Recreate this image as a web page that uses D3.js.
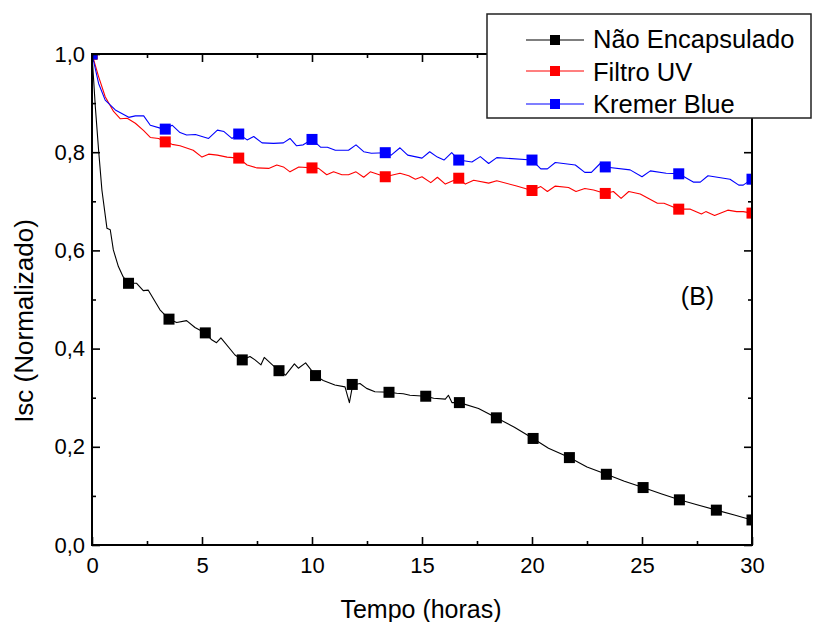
<!DOCTYPE html>
<html>
<head>
<meta charset="utf-8">
<script src="https://cdn.jsdelivr.net/npm/d3@7"></script>
<style>
  html, body { margin: 0; padding: 0; background: #fff; }
  svg { display: block; font-family: "Liberation Sans", Arial, sans-serif; }
</style>
</head>
<body>
<svg id="chart" width="813" height="622"></svg>
<script>
// ---------- data ----------
const seriesNames = ["Não Encapsulado", "Filtro UV", "Kremer Blue"];
const seriesColors = ["#000000", "#ff0000", "#0000ff"];

const naoHoras = [0, 0.15, 0.3, 0.45, 0.68, 0.83, 0.97, 1.2, 1.42, 1.66, 2.03, 2.33, 2.56, 3.09, 3.5, 3.85, 4.3, 4.68, 5.15, 5.44, 5.66, 5.86, 6.5, 6.83, 7.18, 7.41, 7.68, 7.83, 8.2, 8.5, 8.8, 9.2, 9.38, 9.71, 10.16, 10.51, 11.04, 11.5, 11.7, 11.85, 12.18, 12.48, 12.86, 13.5, 13.85, 14.15, 14.45, 15.17, 15.53, 16.06, 16.2, 16.36, 16.7, 17.57, 18.38, 19.2, 20.05, 20.75, 21.7, 22.5, 23.38, 24.2, 25.05, 25.9, 26.7, 27.5, 28.38, 29.2, 30];
const naoIsc = [1.0, 0.893, 0.804, 0.723, 0.645, 0.642, 0.601, 0.567, 0.546, 0.533, 0.533, 0.518, 0.519, 0.479, 0.460, 0.453, 0.457, 0.443, 0.432, 0.418, 0.412, 0.422, 0.387, 0.377, 0.384, 0.377, 0.367, 0.382, 0.367, 0.355, 0.346, 0.369, 0.360, 0.371, 0.345, 0.335, 0.326, 0.322, 0.290, 0.326, 0.329, 0.319, 0.312, 0.311, 0.309, 0.308, 0.305, 0.303, 0.299, 0.297, 0.305, 0.290, 0.290, 0.278, 0.259, 0.240, 0.217, 0.197, 0.178, 0.159, 0.144, 0.130, 0.117, 0.104, 0.092, 0.082, 0.071, 0.061, 0.051];
const naoMarcHoras = [0, 1.66, 3.5, 5.15, 6.83, 8.5, 10.16, 11.83, 13.5, 15.17, 16.7, 18.38, 20.05, 21.7, 23.38, 25.05, 26.7, 28.38, 30];
const naoMarcIsc = [1.0, 0.533, 0.460, 0.432, 0.377, 0.355, 0.345, 0.327, 0.311, 0.303, 0.290, 0.259, 0.217, 0.178, 0.144, 0.117, 0.092, 0.071, 0.051];

const uvHoras = [0, 0.3, 0.6, 0.98, 1.29, 1.6, 1.97, 2.35, 2.65, 3.03, 3.33, 3.64, 4.0, 4.6, 5.0, 5.3, 5.7, 6.14, 6.67, 7.05, 7.5, 8.03, 8.4, 8.7, 9.0, 9.4, 10.0, 10.3, 10.67, 10.98, 11.36, 11.66, 12.0, 12.35, 12.65, 13.33, 14.0, 14.4, 14.7, 15.0, 15.4, 15.7, 16.06, 16.67, 16.97, 17.35, 18.03, 18.4, 19.3, 20.0, 20.4, 20.7, 21.06, 21.66, 22.0, 22.4, 22.8, 23.33, 23.7, 24.05, 24.4, 24.92, 25.7, 26.0, 26.67, 27.2, 27.7, 27.9, 28.3, 28.9, 29.3, 29.6, 30.0];
const uvIsc = [1.0, 0.954, 0.913, 0.883, 0.868, 0.869, 0.859, 0.844, 0.830, 0.828, 0.821, 0.816, 0.813, 0.804, 0.790, 0.796, 0.794, 0.790, 0.788, 0.774, 0.768, 0.767, 0.774, 0.770, 0.760, 0.770, 0.768, 0.767, 0.754, 0.760, 0.754, 0.754, 0.760, 0.749, 0.760, 0.750, 0.757, 0.752, 0.745, 0.750, 0.738, 0.749, 0.735, 0.747, 0.735, 0.743, 0.737, 0.742, 0.731, 0.722, 0.730, 0.720, 0.731, 0.728, 0.720, 0.726, 0.723, 0.716, 0.720, 0.706, 0.720, 0.715, 0.696, 0.696, 0.684, 0.684, 0.674, 0.679, 0.671, 0.682, 0.679, 0.679, 0.676];
const uvMarcHoras = [0, 3.33, 6.67, 10, 13.33, 16.67, 20, 23.33, 26.67, 30];
const uvMarcIsc = [1.0, 0.821, 0.788, 0.768, 0.750, 0.747, 0.722, 0.716, 0.684, 0.676];

const kbHoras = [0, 0.3, 0.6, 1.06, 1.67, 1.97, 2.35, 2.65, 3.1, 3.33, 3.64, 4.0, 4.3, 4.7, 5.3, 5.7, 6.0, 6.36, 6.67, 7.05, 7.35, 7.73, 8.25, 8.7, 9.0, 9.3, 9.6, 10.0, 10.4, 10.7, 11.06, 11.66, 12.0, 12.35, 12.7, 13.33, 13.6, 14.0, 14.35, 15.0, 15.35, 15.7, 16.0, 16.35, 16.67, 17.27, 17.65, 18.03, 18.4, 20.0, 20.4, 20.7, 21.06, 21.97, 22.4, 22.7, 23.1, 23.33, 24.46, 25.0, 25.38, 26.1, 26.67, 27.35, 27.65, 28.0, 29.0, 29.4, 29.6, 30.0];
const kbIsc = [1.0, 0.940, 0.906, 0.886, 0.871, 0.874, 0.874, 0.855, 0.849, 0.847, 0.855, 0.840, 0.835, 0.836, 0.828, 0.845, 0.842, 0.828, 0.837, 0.825, 0.832, 0.819, 0.818, 0.819, 0.828, 0.813, 0.815, 0.826, 0.810, 0.810, 0.804, 0.804, 0.815, 0.801, 0.798, 0.799, 0.794, 0.809, 0.794, 0.788, 0.801, 0.790, 0.784, 0.799, 0.784, 0.780, 0.791, 0.777, 0.789, 0.784, 0.766, 0.766, 0.779, 0.774, 0.759, 0.759, 0.777, 0.770, 0.764, 0.750, 0.762, 0.757, 0.756, 0.739, 0.739, 0.752, 0.745, 0.733, 0.733, 0.745];
const kbMarcHoras = [0, 3.33, 6.67, 10, 13.33, 16.67, 20, 23.33, 26.67, 30];
const kbMarcIsc = [1.0, 0.847, 0.837, 0.826, 0.799, 0.784, 0.784, 0.770, 0.756, 0.745];

const xMajorTicks = [0, 5, 10, 15, 20, 25, 30];
const xMinorTicks = [2.5, 7.5, 12.5, 17.5, 22.5, 27.5];
const yMajorTicks = [0, 0.2, 0.4, 0.6, 0.8, 1.0];
const yMinorTicks = [0.1, 0.3, 0.5, 0.7, 0.9];
const yTickLabels = ["0,0", "0,2", "0,4", "0,6", "0,8", "1,0"];

const xTitle = "Tempo (horas)";
const yTitle = "Isc (Normalizado)";
const panelLabel = "(B)";

// ---------- layout ----------
const L = 92, R = 752, T = 54, B = 545;
const svg = d3.select("#chart");
const x = d3.scaleLinear().domain([0, 30]).range([L, R]);
const y = d3.scaleLinear().domain([0, 1.0]).range([B, T]);

const zip = (a, b) => a.map((d, i) => [d, b[i]]);
const series = [
  { name: seriesNames[0], color: seriesColors[0], line: zip(naoHoras, naoIsc), marks: zip(naoMarcHoras, naoMarcIsc) },
  { name: seriesNames[1], color: seriesColors[1], line: zip(uvHoras, uvIsc), marks: zip(uvMarcHoras, uvMarcIsc) },
  { name: seriesNames[2], color: seriesColors[2], line: zip(kbHoras, kbIsc), marks: zip(kbMarcHoras, kbMarcIsc) }
];

svg.append("defs").append("clipPath").attr("id", "plotclip")
  .append("rect").attr("x", L).attr("y", T).attr("width", R - L).attr("height", B - T);

const plot = svg.append("g").attr("clip-path", "url(#plotclip)");
const lineGen = d3.line().x(d => x(d[0])).y(d => y(d[1]));
const MS = 11;

series.forEach(s => {
  plot.append("path").datum(s.line)
    .attr("d", lineGen).attr("fill", "none")
    .attr("stroke", s.color).attr("stroke-width", 1.1)
    .attr("stroke-linejoin", "round");
});
series.forEach(s => {
  plot.selectAll(null).data(s.marks).enter().append("rect")
    .attr("x", d => x(d[0]) - MS / 2).attr("y", d => y(d[1]) - MS / 2)
    .attr("width", MS).attr("height", MS).attr("fill", s.color);
});

// ---------- axes ----------
const TFS = 22;
const fmtY = d => yTickLabels[yMajorTicks.indexOf(d)];
function styleAxis(g) {
  g.select(".domain").remove();
  g.selectAll(".tick line").attr("stroke", "#000").attr("stroke-width", 1.6);
  g.selectAll(".tick text").attr("fill", "#000").attr("font-size", TFS)
    .attr("font-family", "'Liberation Sans', Arial, sans-serif");
}
svg.append("g").attr("transform", `translate(0,${B})`)
  .call(d3.axisBottom(x).tickValues(xMajorTicks).tickSize(-8).tickPadding(12.5).tickFormat(d3.format("d")))
  .call(styleAxis);
svg.append("g").attr("transform", `translate(0,${B})`)
  .call(d3.axisBottom(x).tickValues(xMinorTicks).tickSize(-4).tickFormat(""))
  .call(styleAxis);
svg.append("g").attr("transform", `translate(0,${T})`)
  .call(d3.axisTop(x).tickValues(xMajorTicks).tickSize(-8).tickFormat(""))
  .call(styleAxis);
svg.append("g").attr("transform", `translate(0,${T})`)
  .call(d3.axisTop(x).tickValues(xMinorTicks).tickSize(-4).tickFormat(""))
  .call(styleAxis);
svg.append("g").attr("transform", `translate(${L},0)`)
  .call(d3.axisLeft(y).tickValues(yMajorTicks).tickSize(-8).tickPadding(7).tickFormat(fmtY))
  .call(styleAxis);
svg.append("g").attr("transform", `translate(${L},0)`)
  .call(d3.axisLeft(y).tickValues(yMinorTicks).tickSize(-4).tickFormat(""))
  .call(styleAxis);
svg.append("g").attr("transform", `translate(${R},0)`)
  .call(d3.axisRight(y).tickValues(yMajorTicks).tickSize(-8).tickFormat(""))
  .call(styleAxis);
svg.append("g").attr("transform", `translate(${R},0)`)
  .call(d3.axisRight(y).tickValues(yMinorTicks).tickSize(-4).tickFormat(""))
  .call(styleAxis);

svg.append("rect").attr("x", L).attr("y", T).attr("width", R - L).attr("height", B - T)
  .attr("fill", "none").attr("stroke", "#000").attr("stroke-width", 2);

// titles
svg.append("text").attr("x", 421).attr("y", 618).attr("text-anchor", "middle")
  .attr("font-size", 25).attr("fill", "#000").text(xTitle);
svg.append("text").attr("transform", "translate(33,321) rotate(-90)")
  .attr("text-anchor", "middle").attr("font-size", 26).attr("fill", "#000").text(yTitle);
svg.append("text").attr("x", 697.5).attr("y", 305).attr("text-anchor", "middle")
  .attr("font-size", 25).attr("fill", "#000").text(panelLabel);

// ---------- legend ----------
const lg = svg.append("g");
lg.append("rect").attr("x", 487).attr("y", 14).attr("width", 324).attr("height", 104)
  .attr("fill", "#fff").attr("stroke", "#222").attr("stroke-width", 1.5);
const rowY = [40, 71, 104];
const rowBase = [47.5, 80.5, 112.5];
series.forEach((s, i) => {
  lg.append("line").attr("x1", 526).attr("x2", 584).attr("y1", rowY[i]).attr("y2", rowY[i])
    .attr("stroke", s.color).attr("stroke-width", 1.1);
  lg.append("rect").attr("x", 555 - 5).attr("y", rowY[i] - 5).attr("width", 10).attr("height", 10)
    .attr("fill", s.color);
  lg.append("text").attr("x", 593).attr("y", rowBase[i]).attr("font-size", 25.5)
    .attr("fill", "#000").text(s.name);
});
</script>
</body>
</html>
